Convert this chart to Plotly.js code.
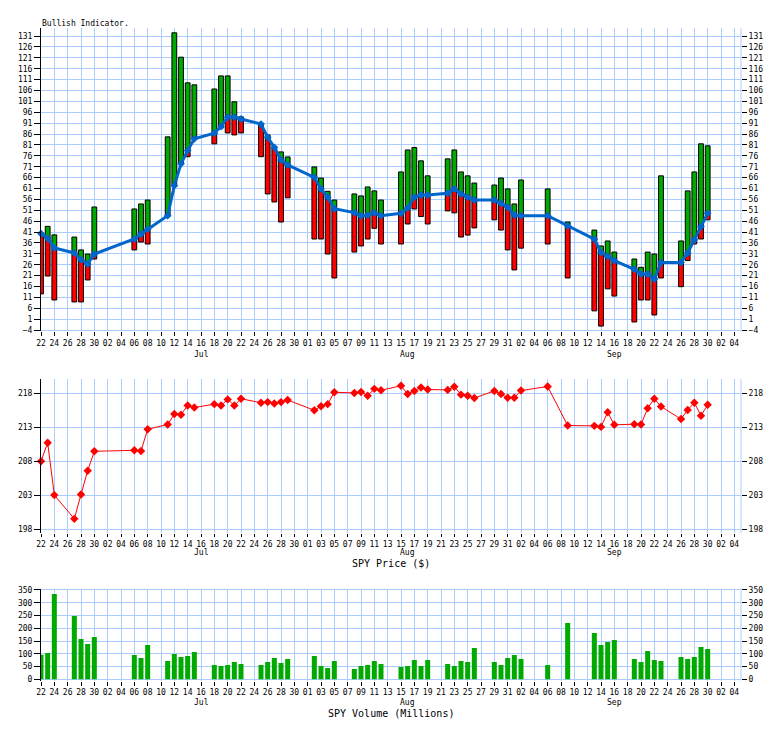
<!DOCTYPE html>
<html>
<head>
<meta charset="utf-8">
<script src="https://cdn.plot.ly/plotly-3.0.1.min.js"></script>
<style>
html,body{margin:0;padding:0;background:#fff;}
#chart{width:784px;height:729px;}
</style>
</head>
<body>
<div id="chart"></div>
<script>
// ---- data (2016 trading days) ----
const dates = [
 '2016-06-22','2016-06-23','2016-06-24','2016-06-27','2016-06-28','2016-06-29','2016-06-30',
 '2016-07-06','2016-07-07','2016-07-08','2016-07-11','2016-07-12','2016-07-13','2016-07-14','2016-07-15',
 '2016-07-18','2016-07-19','2016-07-20','2016-07-21','2016-07-22','2016-07-25','2016-07-26','2016-07-27',
 '2016-07-28','2016-07-29','2016-08-02','2016-08-03','2016-08-04','2016-08-05','2016-08-08','2016-08-09',
 '2016-08-10','2016-08-11','2016-08-12','2016-08-15','2016-08-16','2016-08-17','2016-08-18','2016-08-19',
 '2016-08-22','2016-08-23','2016-08-24','2016-08-25','2016-08-26','2016-08-29','2016-08-30','2016-08-31',
 '2016-09-01','2016-09-02','2016-09-06','2016-09-09','2016-09-13','2016-09-14','2016-09-15','2016-09-16',
 '2016-09-19','2016-09-20','2016-09-21','2016-09-22','2016-09-23','2016-09-26','2016-09-27','2016-09-28',
 '2016-09-29','2016-09-30'
];
// Bullish indicator: bar high, indicator line value, bar low
const bullHigh = [40.3,43.6,39.7,38.7,32.8,30.9,52.5,51.6,53.9,55.7,84.7,132.5,121.3,109.5,108.6,
 106.7,112.7,112.7,100.8,93.9,90.6,85.6,79.9,77.8,75.5,70.9,65.8,59.7,55.7,58.5,57.6,61.7,59.9,55.7,
 68.6,78.7,79.8,73.7,66.8,74.6,78.7,68.6,66.8,63.5,62.6,65.8,60.8,53.9,64.9,60.8,45.6,41.9,34.6,36.9,
 31.8,28.6,24.8,31.8,30.9,66.8,36.9,59.9,68.6,81.5,80.6];
const bullLine = [40.3,38.1,33.7,31.4,28.3,26.3,30.9,37.8,40.1,42.3,48.5,62.3,72.3,78.4,83.8,
 86.4,89.4,93.7,93.8,92.9,90.6,84.5,79.9,74.1,71.8,66.1,60.8,57.0,51.7,49.9,48.4,48.8,49.8,48.5,
 49.6,52.0,57.0,58.0,58.0,58.8,60.8,58.5,57.0,55.7,55.7,54.2,52.4,48.8,48.5,48.5,43.8,37.7,31.7,29.8,
 27.9,23.9,21.7,21.7,19.4,27.0,27.0,31.4,37.4,43.5,49.6];
const bullLow = [12.6,20.8,9.8,8.9,8.9,19.0,28.6,32.8,36.4,35.5,48.5,62.3,72.3,75.6,83.8,
 81.5,88.8,86.5,85.6,86.5,75.6,58.5,54.8,45.6,56.7,37.8,37.8,30.9,19.9,31.8,34.6,37.8,42.7,35.5,
 35.5,44.7,51.6,48.1,44.7,50.7,49.8,38.7,39.6,42.9,46.6,41.9,32.8,23.6,33.6,35.5,19.9,4.8,-2.2,14.9,
 11.6,-0.3,9.8,9.8,2.9,19.9,15.9,27.9,35.5,37.8,46.6];
const spyPrice = [208.0,210.7,203.0,199.5,203.1,206.6,209.45,209.6,209.5,212.7,
 213.4,214.95,214.85,216.2,215.9,216.4,216.2,217.1,216.2,217.2,
 216.6,216.7,216.5,216.7,217.0,215.5,216.1,216.4,218.15,218.05,218.2,217.65,218.65,218.45,
 219.1,217.9,218.35,218.85,218.55,218.5,218.95,217.8,217.65,217.3,
 218.35,217.9,217.35,217.35,218.4,219.0,213.25,213.2,213.05,215.2,213.35,213.45,213.4,215.8,217.2,216.05,
 214.2,215.55,216.6,214.7,216.3];
const spyVolume = [96.6,103.2,334.3,248.1,158,138.4,165.9,95.3,83.6,134.5,
 71.8,99.3,87.5,91.4,107.1,56.2,52.2,56.2,67.9,60.1,
 56.2,67.9,83.6,64,79.7,91.4,52.2,44.4,71.8,40.5,52.2,56.2,71.8,60.1,
 48.3,52.2,75.7,52.2,75.7,60.1,52.2,71.8,67.9,122.8,
 67.9,56.2,83.6,95.3,79.7,56.2,220.7,181.5,134.5,146.3,154.1,79.7,67.9,111,75.7,71.8,
 87.5,79.7,87.5,126.7,118.8];
const monthLabels = ['Jul','Aug','Sep'];
const monthCenters = ['2016-07-16','2016-08-16','2016-09-16'];

// ---- styling ----
const DAY = 86400000;
const GRID = '#aaccff';
const MONO = 'DejaVu Sans Mono';
const tickFont = {family: MONO, size: 8, color: '#000'};

const redLen = bullLine.map((m, i) => m - bullLow[i]);
const greenLen = bullHigh.map((h, i) => h - bullLine[i]);

const ghost = (y, xa, ya) => ({type:'scatter', mode:'lines', x:dates, y:y, xaxis:xa, yaxis:ya,
  line:{width:0, color:'rgba(0,0,0,0)'}, opacity:0, hoverinfo:'skip', showlegend:false});

const traces = [
  {type:'bar', x:dates, base:bullLow, y:redLen, width:0.72*DAY, xaxis:'x', yaxis:'y',
   marker:{color:'#ff0000', line:{color:'#000', width:1}}, cliponaxis:false, hoverinfo:'skip'},
  {type:'bar', x:dates, base:bullLine, y:greenLen, width:0.72*DAY, xaxis:'x', yaxis:'y',
   marker:{color:'#00aa00', line:{color:'#000', width:1}}, cliponaxis:false, hoverinfo:'skip'},
  {type:'scatter', mode:'lines+markers', x:dates, y:bullLine, xaxis:'x', yaxis:'y',
   line:{color:'#0066cc', width:3}, marker:{symbol:'diamond', size:6, color:'#0066cc'},
   cliponaxis:false, hoverinfo:'skip'},
  {type:'scatter', mode:'lines+markers', x:dates, y:spyPrice, xaxis:'x2', yaxis:'y2',
   line:{color:'#ff0000', width:1}, marker:{symbol:'diamond', size:6.5, color:'#ff0000'},
   cliponaxis:false, hoverinfo:'skip'},
  {type:'bar', x:dates, y:spyVolume, width:0.75*DAY, xaxis:'x3', yaxis:'y3',
   marker:{color:'#00aa00', line:{width:0}}, hoverinfo:'skip'},
  ghost(bullLine, 'x', 'y4'),
  ghost(spyPrice, 'x2', 'y5'),
  ghost(spyVolume, 'x3', 'y6')
];

function xAx(anchor, tlen) {
  return {type:'date', range:['2016-06-22','2016-10-05'], anchor:anchor,
    tickmode:'linear', tick0:'2016-06-22', dtick:2*DAY, tickformat:'%d',
    ticks:'outside', ticklen:tlen, tickcolor:'#000', tickwidth:1,
    showgrid:true, gridcolor:GRID, gridwidth:1, showline:false, zeroline:false,
    tickfont:tickFont, fixedrange:true};
}
function yAx(domain, range, tick0, dtick, anchor) {
  return {domain:domain, range:range, anchor:anchor, tickmode:'linear', tick0:tick0, dtick:dtick,
    ticks:'outside', ticklen:6, tickcolor:'#000', showgrid:true, gridcolor:GRID, gridwidth:1,
    showline:true, linecolor:'#000', linewidth:1, zeroline:false, tickfont:tickFont, fixedrange:true};
}
function yRight(over, range, tick0, dtick, anchor) {
  return {overlaying:over, side:'right', anchor:anchor, range:range, tickmode:'linear', tick0:tick0, dtick:dtick,
    ticks:'outside', ticklen:5, tickcolor:'#000', showgrid:false, showline:false, zeroline:false,
    tickfont:tickFont, fixedrange:true};
}

const mainRange = [-4.6, 134.5], priceRange = [197.4, 220.06], volRange = [-5, 355];

const annotations = [
  {text:'Bullish Indicator.', xref:'paper', yref:'paper', x:-0.0015, y:1-24/729,
   xanchor:'left', yanchor:'middle', showarrow:false, font:{family:MONO, size:8, color:'#000'}},
  {text:'SPY Price ($)', xref:'paper', yref:'paper', x:0.5007, y:1-563/729,
   xanchor:'center', yanchor:'middle', showarrow:false, borderpad:0, font:{family:MONO, size:10, color:'#000'}},
  {text:'SPY Volume (Millions)', xref:'paper', yref:'paper', x:0.5007, y:1-713/729,
   xanchor:'center', yanchor:'middle', showarrow:false, borderpad:0, font:{family:MONO, size:10, color:'#000'}}
];
const monthRows = [['x', 354], ['x2', 552.5], ['x3', 702]];
monthRows.forEach(([xr, ypx]) => {
  monthLabels.forEach((m, i) => annotations.push({
    text:m, xref:xr, yref:'paper', x:monthCenters[i], y:1-ypx/729,
    xanchor:'center', yanchor:'middle', showarrow:false, borderpad:0,
    font:{family:MONO, size:8, color:'#000'}}));
});

const shapes = ['x','x2','x3'].map((xr, i) => ({
  type:'line', xref:xr + ' domain', yref:['y','y2','y3'][i] + ' domain',
  x0:1, x1:1, y0:0, y1:1, line:{color:GRID, width:1}, layer:'below'}));

const layout = {
  width:784, height:729, margin:{l:41, r:43, t:0, b:0, pad:0},
  paper_bgcolor:'#fff', plot_bgcolor:'#fff', showlegend:false, barmode:'overlay',
  font:{family:MONO, size:8, color:'#000'},
  xaxis:xAx('y', 4), xaxis2:xAx('y2', 3), xaxis3:xAx('y3', 4),
  yaxis: yAx([0.5455, 0.9610], mainRange, -4, 5, 'x'),
  yaxis2:yAx([0.2687, 0.4797], priceRange, 198, 5, 'x2'),
  yaxis3:yAx([0.0664, 0.1925], volRange, 0, 50, 'x3'),
  yaxis4:yRight('y', mainRange, -4, 5, 'x'),
  yaxis5:yRight('y2', priceRange, 198, 5, 'x2'),
  yaxis6:yRight('y3', volRange, 0, 50, 'x3'),
  annotations:annotations, shapes:shapes
};

Plotly.newPlot('chart', traces, layout, {staticPlot:true, displayModeBar:false});
</script>
</body>
</html>
